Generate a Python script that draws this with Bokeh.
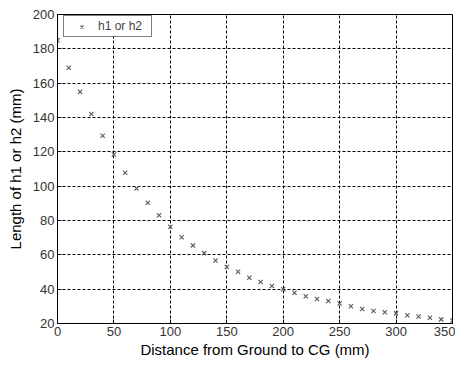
from bokeh.plotting import figure
from bokeh.models import Range1d, FixedTicker, Legend, LegendItem
from bokeh.embed import file_html
from bokeh.resources import INLINE

x_mm = [0, 10, 20, 30, 40, 50, 60, 70, 80, 90, 100, 110, 120, 130, 140, 150, 160, 170,
        180, 190, 200, 210, 220, 230, 240, 250, 260, 270, 280, 290, 300, 310, 320, 330, 340, 350]
h_mm = [185, 169, 155, 142, 129.4, 118.4, 107.8, 98.7, 90.4, 83.1, 76.3, 70.3, 65.5, 61, 56.7,
        52.9, 50.2, 46.7, 44.2, 41.9, 40, 37.9, 35.9, 34.3, 33.1, 31.6, 30, 28.5, 27.3, 26.6,
        25.9, 24.8, 24.1, 23.3, 22.4, 21.8]
x_ticks = [0, 50, 100, 150, 200, 250, 300, 350]
y_ticks = [20, 40, 60, 80, 100, 120, 140, 160, 180, 200]

FONT = "Liberation Sans"

p = figure(width=455, height=360, output_backend="svg", toolbar_location=None,
           x_range=Range1d(0, 350), y_range=Range1d(20, 200),
           min_border_left=57, min_border_right=3, min_border_top=14, min_border_bottom=35)
p.background_fill_color = "white"
p.border_fill_color = "white"
p.outline_line_color = "black"
p.outline_line_width = 1

r = p.scatter(x_mm, h_mm, marker="x", size=6, line_color="#5a5a5a", line_width=1.1)

p.xaxis.ticker = FixedTicker(ticks=x_ticks)
p.yaxis.ticker = FixedTicker(ticks=y_ticks)
for ax in (p.xaxis[0], p.yaxis[0]):
    ax.major_tick_in = 4
    ax.major_tick_out = 0
    ax.minor_tick_in = 0
    ax.minor_tick_out = 0
    ax.axis_line_color = "black"
    ax.major_tick_line_color = "black"
    ax.major_label_text_font = FONT
    ax.major_label_text_font_size = "13px"
    ax.major_label_text_color = "#333333"
    ax.axis_label_text_font = FONT
    ax.axis_label_text_font_size = "15px"
    ax.axis_label_text_font_style = "normal"
    ax.axis_label_text_color = "black"
p.xaxis.axis_label = "Distance from Ground to CG (mm)"
p.yaxis.axis_label = "Length of h1 or h2 (mm)"
p.xaxis.axis_label_standoff = 2
p.yaxis.axis_label_standoff = 6
p.xaxis.major_label_standoff = 3
p.yaxis.major_label_standoff = 3

for g in (p.xgrid[0], p.ygrid[0]):
    g.grid_line_color = "black"
    g.grid_line_dash = "3 2"
    g.grid_line_width = 1

legend = Legend(items=[LegendItem(label="h1 or h2", renderers=[r])], location=(6, 286))
legend.label_text_font = FONT
legend.label_text_font_size = "12px"
legend.border_line_color = "black"
legend.border_line_width = 1
legend.background_fill_alpha = 1
legend.padding = 3
legend.spacing = 0
legend.margin = 0
legend.glyph_width = 29
legend.glyph_height = 11
legend.label_height = 11
legend.label_width = 50
legend.label_standoff = 2
p.add_layout(legend)

open("out.html", "w").write(file_html(p, INLINE))
